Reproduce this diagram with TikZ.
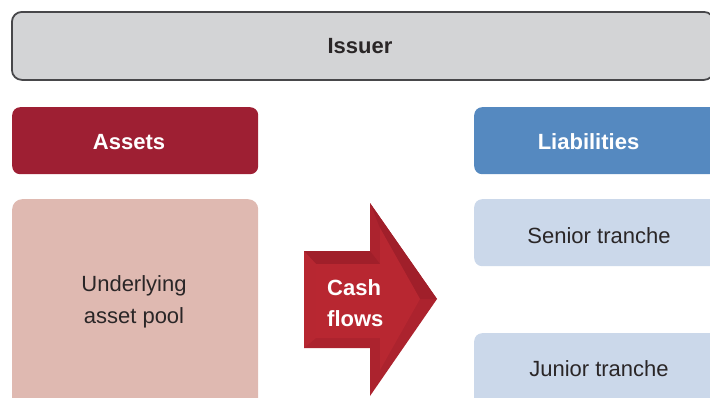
\documentclass[tikz,border=0pt]{standalone}
\usepackage{fontspec}
\setmainfont{Liberation Sans}
\definecolor{issuerfill}{HTML}{D3D4D6}
\definecolor{issuerline}{HTML}{47474A}
\definecolor{assetred}{HTML}{9E1F33}
\definecolor{poolpink}{HTML}{DFB9B1}
\definecolor{liabblue}{HTML}{5589C0}
\definecolor{tranchefill}{HTML}{CBD8EA}
\definecolor{arrowface}{HTML}{B82731}
\definecolor{arrowdark}{HTML}{A01F2A}
\definecolor{arrowmid}{HTML}{AC232E}
\definecolor{bodytext}{HTML}{2A2627}
\begin{document}
\begin{tikzpicture}[x=1pt,y=-1pt,
  box/.style={rounded corners=8pt, inner sep=0pt, anchor=north west},
  hd/.style={font=\fontsize{22}{31}\selectfont\bfseries, inner sep=0pt},
  bodyt/.style={font=\fontsize{22}{32}\selectfont, text=bodytext, inner sep=0pt, align=center}]
\useasboundingbox (0,0) rectangle (710,397);
\clip (0,0) rectangle (710,397);
% Issuer
\node[box, rounded corners=10pt, draw=issuerline, line width=1.8pt, fill=issuerfill,
      minimum width=702pt, minimum height=68pt] (issuer) at (11,11) {};
\node[hd, text=bodytext] (issuertxt) at (360,46) {Issuer};
% Assets
\node[box, fill=assetred, minimum width=246pt, minimum height=67pt] (assets) at (12,107) {};
\node[hd, text=white] (assetstxt) at (129,142) {Assets};
\node[box, rounded corners=10pt, fill=poolpink, minimum width=246pt, minimum height=220pt] (pool) at (12,199) {};
\node[bodyt] (pooltxt) at (134,302) {Underlying\\asset pool};
% Liabilities
\node[box, fill=liabblue, minimum width=260pt, minimum height=67pt] (liab) at (474,107) {};
\node[hd, text=white] (liabtxt) at (588.5,142) {Liabilities};
\node[box, fill=tranchefill, minimum width=260pt, minimum height=67pt] (senior) at (474,199) {};
\node[bodyt] (seniortxt) at (599,236) {Senior tranche};
\node[box, fill=tranchefill, minimum width=260pt, minimum height=90pt] (junior) at (474,333) {};
\node[bodyt] (juniortxt) at (599,369) {Junior tranche};
% Cash flows arrow (bevelled)
\fill[arrowmid] (304,251) -- (370,251) -- (370,203) -- (437,299) -- (370,396) -- (370,348) -- (304,348) -- cycle;
\fill[arrowdark] (304,251) -- (370,251) -- (380,264) -- (316,264) -- cycle;
\fill[arrowdark] (370,203) -- (437,299) -- (420,299) -- (380,228) -- cycle;
\fill[arrowface!92!arrowmid] (304,251) -- (316,264) -- (316,338) -- (304,348) -- cycle;
\fill[arrowface] (316,264) -- (380,264) -- (380,228) -- (420,299) -- (380,370) -- (380,338) -- (316,338) -- cycle;
\node[hd, text=white, align=left, anchor=west] (cash) at (327,303) {Cash\\flows};
\end{tikzpicture}
\end{document}
